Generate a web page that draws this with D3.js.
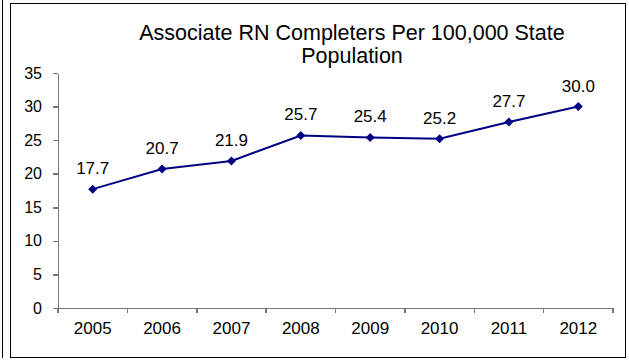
<!DOCTYPE html>
<meta charset="utf-8">
<style>
body { margin: 0; background: #fff; }
svg { display: block; font-family: Arial, "Liberation Sans", sans-serif; }
.axis path, .axis line { stroke: #777; stroke-width: 1.5; shape-rendering: crispEdges; }
.axis text { fill: #000; }
.title { font-size: 21.5px; fill: #000; }
.label { font-size: 17px; fill: #000; text-anchor: middle; }
</style>
<svg width="629" height="360"></svg>
<script src="https://d3js.org/d3.v7.min.js"></script>
<script>

var years = ["2005", "2006", "2007", "2008", "2009", "2010", "2011", "2012"];
var completers = [17.7, 20.7, 21.9, 25.7, 25.4, 25.2, 27.7, 30.0];
var yTicks = [0, 5, 10, 15, 20, 25, 30, 35];
var titleLines = ["Associate RN Completers Per 100,000 State", "Population"];

var svg = d3.select("svg"),
    margin = {top: 73, right: 16, bottom: 52, left: 58},
    width = +svg.attr("width") - margin.left - margin.right,
    height = +svg.attr("height") - margin.top - margin.bottom;

var data = years.map(function(y, i) { return {year: y, value: completers[i]}; });

// outer frame bits
svg.append("line")
    .attr("x1", 2.5).attr("x2", 2.5)
    .attr("y1", 0).attr("y2", 358)
    .attr("stroke", "#000");

svg.append("rect")
    .attr("x", 10.5).attr("y", 3.5)
    .attr("width", 615).attr("height", 354)
    .attr("fill", "none")
    .attr("stroke", "#000");

var x = d3.scaleBand()
    .domain(years)
    .range([0, width])
    .padding(0);

var y = d3.scaleLinear()
    .domain([0, 35])
    .range([height, 0]);

var g = svg.append("g")
    .attr("transform", "translate(" + margin.left + "," + margin.top + ")");

// y axis
g.append("g")
    .attr("class", "axis")
    .call(d3.axisLeft(y).tickValues(yTicks).tickSize(5).tickPadding(11).tickSizeOuter(0))
    .selectAll("text")
    .style("font-size", "16px");

// x axis: labels centred, ticks between categories
var xAxis = g.append("g")
    .attr("class", "axis")
    .attr("transform", "translate(0," + height + ")")
    .call(d3.axisBottom(x).tickSize(0).tickPadding(14).tickSizeOuter(0));

xAxis.selectAll("text")
    .style("font-size", "17px");

xAxis.selectAll(".sep")
    .data(years.concat(["end"]))
  .enter().append("line")
    .attr("class", "sep")
    .attr("x1", function(d) { return d === "end" ? width : x(d); })
    .attr("x2", function(d) { return d === "end" ? width : x(d); })
    .attr("y1", 0)
    .attr("y2", 5);

var cx = function(d) { return x(d.year) + x.bandwidth() / 2; };

g.append("path")
    .datum(data)
    .attr("fill", "none")
    .attr("stroke", "#000080")
    .attr("stroke-width", 2)
    .attr("d", d3.line().x(cx).y(function(d) { return y(d.value); }));

g.selectAll(".dot")
    .data(data)
  .enter().append("path")
    .attr("class", "dot")
    .attr("fill", "#000080")
    .attr("transform", function(d) { return "translate(" + cx(d) + "," + y(d.value) + ")"; })
    .attr("d", "M0,-4.5L4.5,0L0,4.5L-4.5,0Z");

g.selectAll(".label")
    .data(data)
  .enter().append("text")
    .attr("class", "label")
    .attr("x", cx)
    .attr("y", function(d) { return y(d.value) - 15; })
    .text(function(d) { return d.value.toFixed(1); });

svg.append("text")
    .attr("class", "title")
    .attr("text-anchor", "middle")
  .selectAll("tspan")
    .data(titleLines)
  .enter().append("tspan")
    .attr("x", 352)
    .attr("y", function(d, i) { return 40 + i * 23; })
    .text(function(d) { return d; });

</script>
